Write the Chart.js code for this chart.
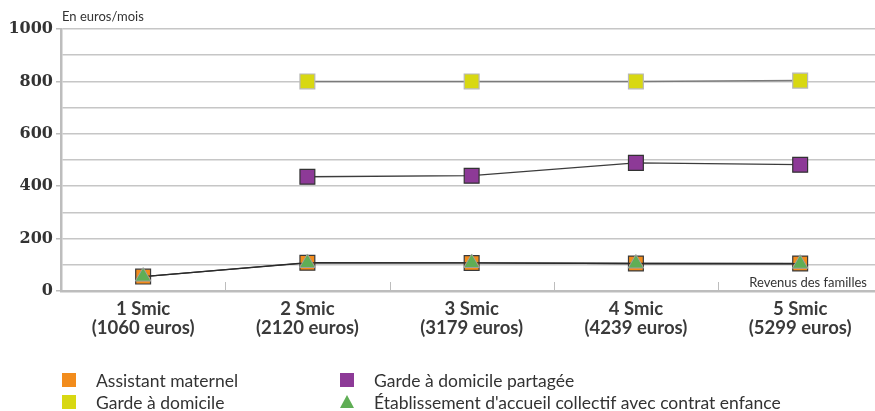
<!DOCTYPE html>
<html>
<head>
<meta charset="utf-8">
<script src="https://cdn.jsdelivr.net/npm/chart.js@4.4.1/dist/chart.umd.min.js"></script>
<style>
  html, body { margin: 0; padding: 0; background: #fff; overflow: hidden; }
  #chart { display: block; }
</style>
</head>
<body>
<canvas id="chart" width="894" height="411"></canvas>
<script>
// categories (revenus des familles)
var categories = [
    ["1 Smic", "(1060 euros)"],
    ["2 Smic", "(2120 euros)"],
    ["3 Smic", "(3179 euros)"],
    ["4 Smic", "(4239 euros)"],
    ["5 Smic", "(5299 euros)"]
];

// en euros/mois
var assistantMaternel = [55, 108, 107, 105, 105];
var gardeDomicile = [null, 800, 800, 800, 803];
var gardePartagee = [null, 436, 440, 489, 482];
var etablissement = [55, 107, 107, 105, 104];

var yTicks = [0, 200, 400, 600, 800, 1000];

var labelFont = "Lato, 'Open Sans', sans-serif";

var ctx = document.getElementById("chart").getContext("2d");

// legende 2 colonnes + textes d'axe
var extrasPlugin = {
    id: "extras",
    afterDraw: function (chart) {
        var c = chart.ctx;
        var area = chart.chartArea;
        var xs = chart.scales.x;
        c.save();

        // petits traits de separation entre categories
        c.strokeStyle = "#bdbdbd";
        c.lineWidth = 1;
        for (var i = 1; i < categories.length; i++) {
            var px = Math.round((xs.getPixelForValue(i - 1) + xs.getPixelForValue(i)) / 2) + 0.5;
            c.beginPath();
            c.moveTo(px, area.bottom - 9);
            c.lineTo(px, area.bottom);
            c.stroke();
        }

        c.fillStyle = "#333";
        c.font = "13px " + labelFont;
        c.textBaseline = "middle";
        c.textAlign = "left";
        c.fillText("En euros/mois", 62, 17);
        c.textAlign = "right";
        c.fillText("Revenus des familles", 867, 283);

        // legende
        var cols = [62, 340];
        var rows = [380, 402];
        c.textAlign = "left";
        c.font = "17.5px " + labelFont;
        chart.data.datasets.forEach(function (ds, k) {
            var x = cols[Math.floor(k / 2)];
            var y = rows[k % 2];
            c.fillStyle = ds.pointBackgroundColor;
            if (ds.pointStyle === "triangle") {
                c.beginPath();
                c.moveTo(x + 7, y - 7);
                c.lineTo(x + 14, y + 6);
                c.lineTo(x, y + 6);
                c.closePath();
                c.fill();
            } else {
                c.fillRect(x, y - 7, 14, 14);
            }
            c.fillStyle = "#333";
            c.fillText(ds.label, x + 34, y + 1);
        });
        c.restore();
    }
};

new Chart(ctx, {
    type: "line",
    data: {
        labels: categories,
        datasets: [
            {
                label: "Assistant maternel",
                data: assistantMaternel,
                borderColor: "#2b2b2b",
                borderWidth: 1.3,
                pointStyle: "rect",
                pointRadius: 10.5,
                pointBackgroundColor: "#f28c1c",
                pointBorderColor: "#3a3a3a",
                pointBorderWidth: 1.2,
                order: 2
            },
            {
                label: "Garde à domicile",
                data: gardeDomicile,
                borderColor: "#7a7a7a",
                borderWidth: 1.5,
                pointStyle: "rect",
                pointRadius: 10.5,
                pointBackgroundColor: "#d8d812",
                pointBorderColor: "#b8b8b8",
                pointBorderWidth: 1.2,
                order: 3
            },
            {
                label: "Garde à domicile partagée",
                data: gardePartagee,
                borderColor: "#3c3c3c",
                borderWidth: 1.3,
                pointStyle: "rect",
                pointRadius: 10.5,
                pointBackgroundColor: "#8d3a97",
                pointBorderColor: "#333",
                pointBorderWidth: 1.2,
                order: 4
            },
            {
                label: "Établissement d'accueil collectif avec contrat enfance",
                data: etablissement,
                borderColor: "#2b2b2b",
                borderWidth: 1.3,
                pointStyle: "triangle",
                pointRadius: 9,
                pointBackgroundColor: "#5fae55",
                pointBorderColor: "#a0a0a0",
                pointBorderWidth: 1,
                order: 1
            }
        ]
    },
    options: {
        responsive: false,
        animation: false,
        layout: {
            padding: { top: 29, right: 4, left: 0, bottom: 0 }
        },
        plugins: {
            legend: { display: false },
            tooltip: { enabled: false }
        },
        scales: {
            x: {
                offset: true,
                grid: { display: false },
                border: { color: "#bdbdbd", width: 2.5 },
                ticks: {
                    color: "#3a3a3a",
                    padding: 0,
                    font: { family: labelFont, size: 18.5, weight: "bold", lineHeight: 1.05 },
                    maxRotation: 0,
                    autoSkip: false
                },
                afterFit: function (scale) { scale.height = 120; }
            },
            y: {
                min: 0,
                max: 1000,
                grid: {
                    color: "#c6c6c6",
                    lineWidth: 1.5,
                    tickLength: 5,
                    tickColor: function (c) {
                        return yTicks.indexOf(c.tick.value) >= 0 ? "#bdbdbd" : "rgba(0,0,0,0)";
                    }
                },
                border: { color: "#bdbdbd", width: 2.5 },
                ticks: {
                    stepSize: 100,
                    padding: 3,
                    color: "#333",
                    font: { family: "'DejaVu Serif', serif", size: 16, weight: "bold" },
                    callback: function (v) { return yTicks.indexOf(v) >= 0 ? v : ""; }
                },
                afterFit: function (scale) { scale.width = 61; }
            }
        }
    },
    plugins: [extrasPlugin]
});
</script>
</body>
</html>
